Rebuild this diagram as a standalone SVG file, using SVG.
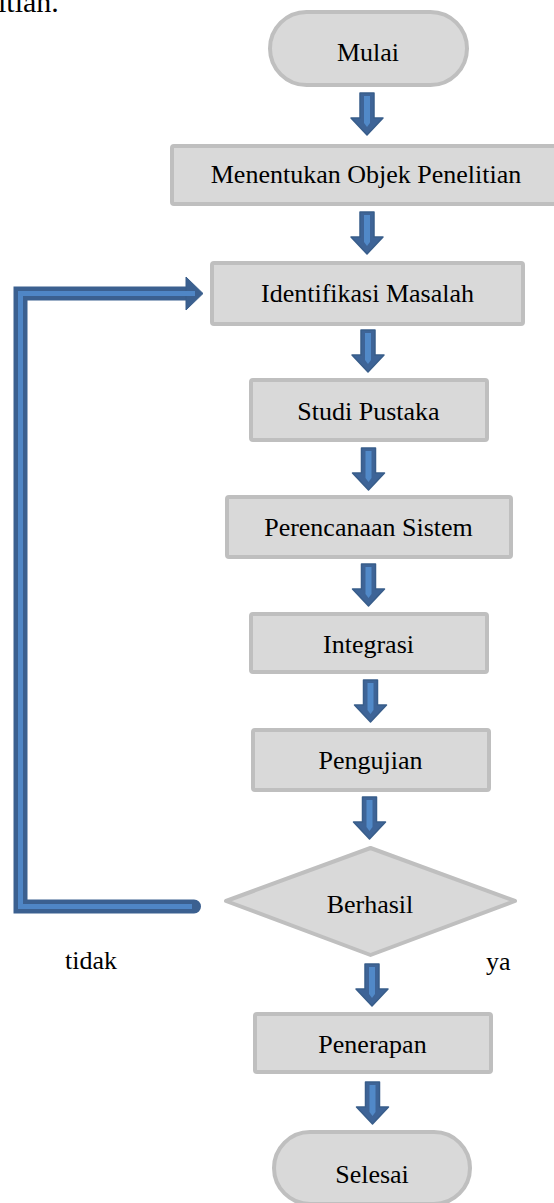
<svg xmlns="http://www.w3.org/2000/svg" xmlns:xlink="http://www.w3.org/1999/xlink" width="554" height="1203" viewBox="0 0 554 1203">
<style>
.box{fill:#d9d9d9;stroke:#bfbfbf;stroke-width:4}
.lbl{font-family:"Liberation Serif","Times New Roman",serif;font-size:26px;fill:#000;text-anchor:middle}
.free{font-family:"Liberation Serif","Times New Roman",serif;font-size:26px;fill:#000}
</style>
<defs>
<g id="darrow">
<path d="M-7,0 H7 V25 H16 L0,42 L-16,25 H-7 Z" fill="#3e6497" stroke="#385d8a" stroke-width="1.5" stroke-linejoin="round"/>
<path d="M-3,3 H3 V30 L0,34 L-3,30 Z" fill="#5189c8"/>
</g>
</defs>
<text x="-2" y="12" style="font-family:'Liberation Serif','Times New Roman',serif;font-size:30px">itian.</text>

<g id="connectors">
<use xlink:href="#darrow" x="367" y="93"/>
<use xlink:href="#darrow" x="367" y="212"/>
<use xlink:href="#darrow" x="368" y="330"/>
<use xlink:href="#darrow" x="368.5" y="448"/>
<use xlink:href="#darrow" x="368.5" y="564"/>
<use xlink:href="#darrow" x="370.5" y="680"/>
<use xlink:href="#darrow" x="369.5" y="797"/>
<use xlink:href="#darrow" x="372" y="964"/>
<use xlink:href="#darrow" x="372.5" y="1082"/>
<g id="feedback">
<path d="M194,906.5 H20.5 V293.5 H190" fill="none" stroke="#3b6090" stroke-width="14" stroke-linecap="round" stroke-linejoin="miter"/>
<polygon points="186,277 203,293.5 186,310" fill="#3b6090" stroke="#385d8a" stroke-width="1" stroke-linejoin="round"/>
<path d="M192,906.5 H20.5 V293.5 H195" fill="none" stroke="#4f86c6" stroke-width="5"/>
</g>
</g>

<g id="mulai">
<rect class="box" x="270" y="12" width="197" height="73" rx="36.5"/>
<text class="lbl" x="368" y="61">Mulai</text>
</g>
<g id="menentukan">
<rect class="box" x="172" y="146" width="384" height="58" rx="2"/>
<text class="lbl" x="366" y="183">Menentukan Objek Penelitian</text>
</g>
<g id="identifikasi">
<rect class="box" x="212" y="263" width="311" height="61" rx="2"/>
<text class="lbl" x="367.5" y="302">Identifikasi Masalah</text>
</g>
<g id="studi">
<rect class="box" x="251" y="380" width="236" height="60" rx="2"/>
<text class="lbl" x="368.5" y="420">Studi Pustaka</text>
</g>
<g id="perencanaan">
<rect class="box" x="227" y="497" width="284" height="60" rx="2"/>
<text class="lbl" x="368.5" y="536">Perencanaan Sistem</text>
</g>
<g id="integrasi">
<rect class="box" x="251" y="614" width="236" height="58" rx="2"/>
<text class="lbl" x="368.5" y="653">Integrasi</text>
</g>
<g id="pengujian">
<rect class="box" x="253" y="730" width="236" height="60" rx="2"/>
<text class="lbl" x="370.5" y="769">Pengujian</text>
</g>
<g id="berhasil">
<polygon class="box" points="226,901 370.5,848 515,901 370.5,955" stroke-linejoin="round"/>
<text class="lbl" x="370" y="913">Berhasil</text>
</g>
<text class="free" x="65" y="969">tidak</text>
<text class="free" x="486" y="970">ya</text>
<g id="penerapan">
<rect class="box" x="255" y="1014" width="236" height="58" rx="2"/>
<text class="lbl" x="372.5" y="1053">Penerapan</text>
</g>
<g id="selesai">
<rect class="box" x="274" y="1132" width="196" height="72" rx="36"/>
<text class="lbl" x="372" y="1183">Selesai</text>
</g>
</svg>
